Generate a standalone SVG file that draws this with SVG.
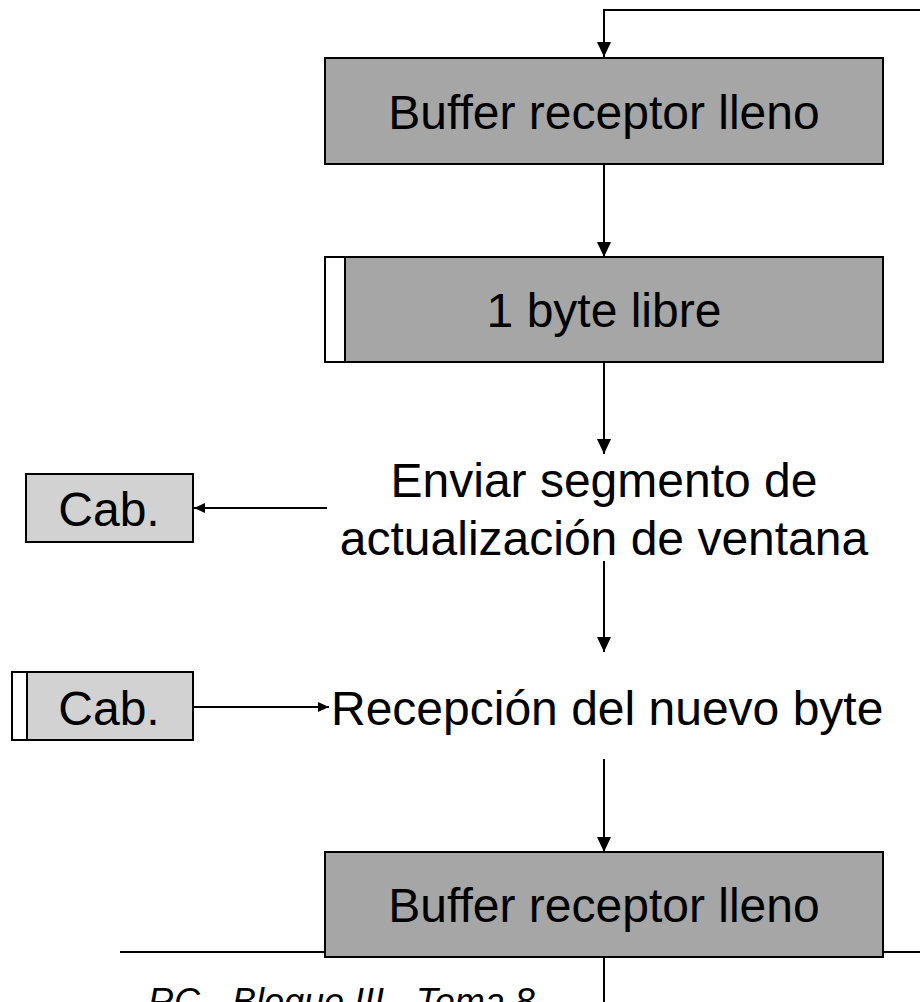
<svg xmlns="http://www.w3.org/2000/svg" width="920" height="1002" viewBox="0 0 920 1002">
<style>
.box{fill:#a6a6a6;stroke:#000;stroke-width:2}
.cab{fill:#d2d2d2;stroke:#000;stroke-width:2}
.white{fill:#fff;stroke:#000;stroke-width:2}
.t{font-family:"Liberation Sans",Arial,sans-serif;font-size:48px;fill:#000}
.c{stroke:#000;stroke-width:2;fill:none}
.footer{font-family:"Liberation Sans",Arial,sans-serif;font-size:36px;font-style:italic;fill:#000}
</style>
<defs>
<marker id="ah" markerWidth="15" markerHeight="14" viewBox="0 0 15 14" refX="15" refY="7" orient="auto" markerUnits="userSpaceOnUse">
<path d="M0,0 L15,7 L0,14 Z" fill="#000"/>
</marker>
<marker id="ahs" markerWidth="11" markerHeight="10" viewBox="0 0 11 10" refX="11" refY="5" orient="auto" markerUnits="userSpaceOnUse">
<path d="M0,0 L11,5 L0,10 Z" fill="#000"/>
</marker>
</defs>
<g id="connectors">
<path class="c" d="M920,10 L604,10 L604,57" marker-end="url(#ah)"/>
<path class="c" d="M604,164 L604,257" marker-end="url(#ah)"/>
<path class="c" d="M604,362 L604,454" marker-end="url(#ah)"/>
<path class="c" d="M327,508 L194,508" marker-end="url(#ahs)"/>
<path class="c" d="M604,561 L604,652" marker-end="url(#ah)"/>
<path class="c" d="M193,707 L329,707" marker-end="url(#ahs)"/>
<path class="c" d="M604,759 L604,852" marker-end="url(#ah)"/>
<path class="c" d="M120,952 L920,952"/>
<path class="c" d="M604,957 L604,1002"/>
</g>
<g id="buffer1">
<rect class="box" x="325" y="58" width="558" height="106"/>
<text class="t" x="604" y="129" text-anchor="middle">Buffer receptor lleno</text>
</g>
<g id="libre">
<rect class="box" x="325" y="257" width="558" height="105"/>
<rect class="white" x="325" y="257" width="20" height="105"/>
<text class="t" x="604" y="327" text-anchor="middle">1 byte libre</text>
</g>
<g id="enviar">
<text class="t" x="604" y="497" text-anchor="middle">Enviar segmento de</text>
<text class="t" x="604" y="555" text-anchor="middle">actualización de ventana</text>
</g>
<g id="cab1">
<rect class="cab" x="26" y="474" width="167" height="68"/>
<text class="t" x="109" y="526" text-anchor="middle">Cab.</text>
</g>
<g id="cab2">
<rect class="cab" x="12" y="672" width="181" height="68"/>
<rect class="white" x="12" y="672" width="15" height="68"/>
<text class="t" x="109" y="725" text-anchor="middle">Cab.</text>
</g>
<g id="recepcion">
<text class="t" x="331" y="725">Recepción del nuevo byte</text>
</g>
<g id="buffer2">
<rect class="box" x="325" y="852" width="558" height="105"/>
<text class="t" x="604" y="922" text-anchor="middle">Buffer receptor lleno</text>
</g>
<g id="footer">
<text class="footer" x="148" y="1014">RC - Bloque III - Tema 8</text>
</g>
</svg>
